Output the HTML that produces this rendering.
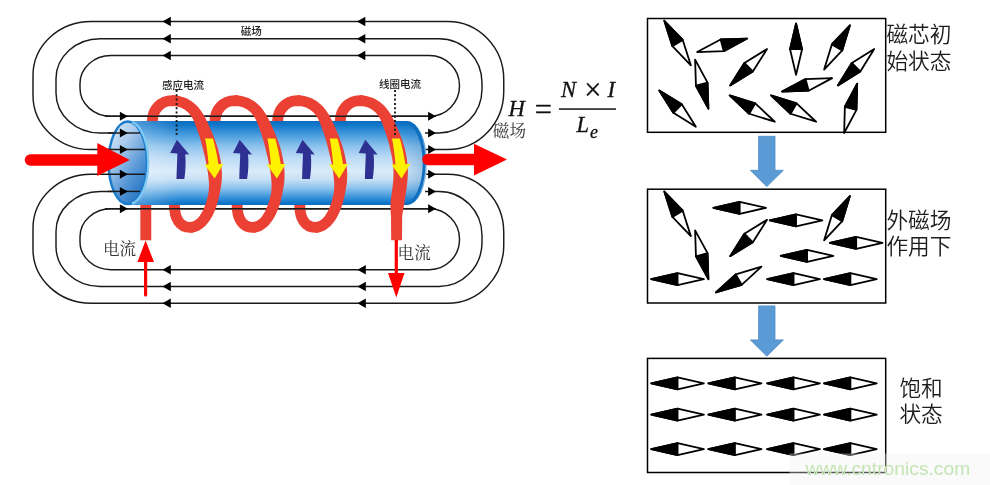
<!DOCTYPE html>
<html lang="zh"><head><meta charset="utf-8"><title>磁场</title>
<style>html,body{margin:0;padding:0;background:#fff}body{width:990px;height:485px;overflow:hidden}svg{display:block;will-change:transform}</style>
</head><body>
<svg width="990" height="485" viewBox="0 0 990 485">
<defs>
<linearGradient id="cyl" x1="0" y1="0" x2="0" y2="1">
<stop offset="0" stop-color="#0a6cbf"/><stop offset="0.05" stop-color="#1278ca"/><stop offset="0.15" stop-color="#3f97dc"/>
<stop offset="0.3" stop-color="#8cc2ec"/><stop offset="0.45" stop-color="#bfdcf5"/><stop offset="0.6" stop-color="#d8ebfa"/>
<stop offset="0.7" stop-color="#c5e0f6"/><stop offset="0.8" stop-color="#8cc2ec"/><stop offset="0.9" stop-color="#3f97dc"/>
<stop offset="0.96" stop-color="#167cce"/><stop offset="1" stop-color="#0a6cbf"/></linearGradient>
<linearGradient id="open" x1="0.15" y1="0" x2="0.85" y2="1">
<stop offset="0" stop-color="#d8e7f7"/><stop offset="0.3" stop-color="#a9cbed"/><stop offset="0.65" stop-color="#5596d6"/><stop offset="1" stop-color="#1c6cbe"/></linearGradient>
<linearGradient id="hl" x1="0" y1="0" x2="1" y2="0">
<stop offset="0" stop-color="#ffffff" stop-opacity="0.32"/><stop offset="1" stop-color="#ffffff" stop-opacity="0"/></linearGradient>
<clipPath id="bodyclip"><path d="M128,121 H407 A20,42 0 0 1 407,205 H128 A20,42 0 0 1 128,121 Z"/></clipPath>
<linearGradient id="endg" x1="0" y1="0" x2="1" y2="0">
<stop offset="0" stop-color="#0a62b0" stop-opacity="0"/><stop offset="1" stop-color="#0a62b0" stop-opacity="0.3"/></linearGradient>
</defs>
<rect width="990" height="485" fill="#fff"/>
<rect x="789.5" y="453.5" width="200.5" height="31.5" fill="#fbfbfb"/>
<g fill="none" stroke="#1a1a1a" stroke-width="1.45">
<path d="M270.00,21.50 H91.00 A58.00,54.00 0 0 0 33.00,75.50 V95.50 A58.00,54.00 0 0 0 91.00,149.50 H143.00"/>
<path d="M270.00,21.50 H447.75 A56.00,58.00 0 0 1 503.75,79.50 V91.50 A56.00,58.00 0 0 1 447.75,149.50 H425.00"/>
<path d="M270.00,38.75 H100.00 A44.00,40.00 0 0 0 56.00,78.75 V93.00 A44.00,40.00 0 0 0 100.00,133.00 H143.00"/>
<path d="M270.00,38.75 H439.00 A43.00,44.00 0 0 1 482.00,82.75 V89.00 A43.00,44.00 0 0 1 439.00,133.00 H425.00"/>
<path d="M270.00,55.50 H111.00 A31.00,28.00 0 0 0 80.00,83.50 V88.30 A31.00,28.00 0 0 0 111.00,116.30 H436.00"/>
<path d="M270.00,55.50 H429.50 A30.00,30.20 0 0 1 459.50,85.70 V86.10 A30.00,30.20 0 0 1 429.50,116.30 H436.00"/>
<path d="M436.00,208.80 H111.00 A31.00,28.00 0 0 0 80.00,236.80 V241.70 A31.00,28.00 0 0 0 111.00,269.70 H270.00"/>
<path d="M436.00,208.80 H429.50 A30.00,30.20 0 0 1 459.50,239.00 V239.50 A30.00,30.20 0 0 1 429.50,269.70 H270.00"/>
<path d="M143.00,191.40 H100.00 A44.00,40.00 0 0 0 56.00,231.40 V246.50 A44.00,40.00 0 0 0 100.00,286.50 H270.00"/>
<path d="M425.00,191.40 H439.00 A43.00,44.00 0 0 1 482.00,235.40 V242.50 A43.00,44.00 0 0 1 439.00,286.50 H270.00"/>
<path d="M143.00,174.20 H91.00 A58.00,54.00 0 0 0 33.00,228.20 V249.20 A58.00,54.00 0 0 0 91.00,303.20 H270.00"/>
<path d="M425.00,174.20 H447.75 A56.00,58.00 0 0 1 503.75,232.20 V245.20 A56.00,58.00 0 0 1 447.75,303.20 H270.00"/>
</g>
<g fill="none" stroke="#eb4034" stroke-width="10.9">
<path d="M145.8,200 V240.3"/>
<path d="M152.30,121.5 C152.30,110 160.50,100.6 172.00,100.6 L175.00,100.75 M193.00,227.1 L190.00,227.4 C180.00,227.4 174.40,219 174.40,204"/>
<path d="M214.95,121.5 C214.95,110 223.15,100.6 234.65,100.6 L237.65,100.75 M255.65,227.1 L252.65,227.4 C242.65,227.4 237.05,219 237.05,204"/>
<path d="M277.60,121.5 C277.60,110 285.80,100.6 297.30,100.6 L300.30,100.75 M318.30,227.1 L315.30,227.4 C305.30,227.4 299.70,219 299.70,204"/>
<path d="M340.25,121.5 C340.25,110 348.45,100.6 359.95,100.6 L362.95,100.75"/>
</g>
<g fill="none" stroke="#1a1a1a" stroke-width="1.45"><path d="M105,116.3 H436"/><path d="M105,208.8 H436"/></g>
<path d="M128,121 H407 A20,42 0 0 1 407,205 H128 A20,42 0 0 1 128,121 Z" fill="url(#cyl)"/>
<rect x="396" y="120" width="32" height="86" fill="url(#endg)" clip-path="url(#bodyclip)"/>
<path d="M407,122.3 A18.4,40.8 0 0 1 407,203.7" fill="none" stroke="#0e6dbe" stroke-width="2.8"/>
<rect x="128" y="120" width="52" height="86" fill="url(#hl)" clip-path="url(#bodyclip)"/><ellipse cx="127.8" cy="162.8" rx="19.2" ry="41.3" fill="url(#open)" stroke="#1a7ccb" stroke-width="2.5"/>
<path d="M132,122 A19.2,41.3 0 0 1 132,203.6" fill="none" stroke="#7fcbf4" stroke-width="2.2"/>
<g fill="none" stroke="#1a1a1a" stroke-width="1.45"><path d="M108,133 H140"/><path d="M108,149.5 H145"/><path d="M108,174.2 H145"/><path d="M108,191.4 H140"/></g>
<g fill="#000"><polygon points="162.50,21.50 170.80,16.80 170.80,26.20"/><polygon points="357.00,21.50 365.30,16.80 365.30,26.20"/><polygon points="162.50,38.75 170.80,34.05 170.80,43.45"/><polygon points="357.00,38.75 365.30,34.05 365.30,43.45"/><polygon points="162.50,55.50 170.80,50.80 170.80,60.20"/><polygon points="357.00,55.50 365.30,50.80 365.30,60.20"/><polygon points="162.50,269.70 170.80,265.00 170.80,274.40"/><polygon points="357.50,269.70 365.80,265.00 365.80,274.40"/><polygon points="162.50,286.50 170.80,281.80 170.80,291.20"/><polygon points="357.50,286.50 365.80,281.80 365.80,291.20"/><polygon points="162.50,303.20 170.80,298.50 170.80,307.90"/><polygon points="357.50,303.20 365.80,298.50 365.80,307.90"/><polygon points="127.80,149.50 119.90,145.00 119.90,154.00"/><polygon points="436.00,149.50 428.10,145.00 428.10,154.00"/><polygon points="127.80,133.00 119.90,128.50 119.90,137.50"/><polygon points="436.00,133.00 428.10,128.50 428.10,137.50"/><polygon points="127.80,116.30 119.90,111.80 119.90,120.80"/><polygon points="436.00,116.30 428.10,111.80 428.10,120.80"/><polygon points="127.80,208.80 119.90,204.30 119.90,213.30"/><polygon points="436.00,208.80 428.10,204.30 428.10,213.30"/><polygon points="127.80,191.40 119.90,186.90 119.90,195.90"/><polygon points="436.00,191.40 428.10,186.90 428.10,195.90"/><polygon points="127.80,174.20 119.90,169.70 119.90,178.70"/><polygon points="436.00,174.20 428.10,169.70 428.10,178.70"/></g>
<g fill="#2e3192"><path d="M176.90,139.8 L189.20,154.6 L185.20,154.2 C186.00,162 185.60,171 184.30,179 L176.50,179 C176.60,171 177.20,162 177.40,153.6 L170.20,153 Z"/><path d="M239.70,139.8 L252.00,154.6 L248.00,154.2 C248.80,162 248.40,171 247.10,179 L239.30,179 C239.40,171 240.00,162 240.20,153.6 L233.00,153 Z"/><path d="M302.50,139.8 L314.80,154.6 L310.80,154.2 C311.60,162 311.20,171 309.90,179 L302.10,179 C302.20,171 302.80,162 303.00,153.6 L295.80,153 Z"/><path d="M365.30,139.8 L377.60,154.6 L373.60,154.2 C374.40,162 374.00,171 372.70,179 L364.90,179 C365.00,171 365.60,162 365.80,153.6 L358.60,153 Z"/></g>
<g fill="#eb4034" stroke="none">
<path d="M171.87,105.90 L173.29,105.93 L174.54,106.03 L175.76,106.19 L176.96,106.41 L178.12,106.69 L179.25,107.02 L180.36,107.42 L181.44,107.87 L182.49,108.38 L183.51,108.94 L184.51,109.57 L185.48,110.24 L186.42,110.98 L187.34,111.77 L188.23,112.61 L189.09,113.52 L189.92,114.48 L190.72,115.50 L191.46,116.59 L192.17,117.74 L192.84,118.94 L193.47,120.20 L194.06,121.51 L194.66,122.95 L195.33,124.63 L196.02,126.43 L196.74,128.36 L197.47,130.40 L198.22,132.55 L198.96,134.81 L199.71,137.15 L200.45,139.58 L201.18,142.08 L201.89,144.65 L202.57,147.28 L203.22,149.96 L203.86,152.67 L204.56,155.39 L205.20,158.14 L205.79,160.91 L206.33,163.69 L206.81,166.47 L207.34,169.23 L207.79,171.99 L208.17,174.73 L208.45,177.44 L208.73,180.13 L208.94,182.75 L209.01,185.02 L208.95,187.41 L208.80,189.83 L208.56,192.26 L208.11,194.68 L207.58,197.07 L206.98,199.43 L206.30,201.75 L205.56,204.00 L204.76,206.18 L203.90,208.27 L202.98,210.26 L202.00,212.13 L200.98,213.86 L199.92,215.45 L198.83,216.88 L197.72,218.14 L196.60,219.21 L195.48,220.11 L194.37,220.82 L193.29,221.36 L192.21,221.74 L191.13,221.97 L189.64,222.06 L190.36,232.74 L192.56,232.58 L195.05,232.07 L197.41,231.26 L199.64,230.18 L201.72,228.86 L203.65,227.34 L205.45,225.64 L207.13,223.79 L208.68,221.80 L210.13,219.69 L211.48,217.46 L212.72,215.14 L213.88,212.73 L214.94,210.23 L215.92,207.67 L216.81,205.05 L217.61,202.38 L218.32,199.68 L218.95,196.95 L219.49,194.20 L220.09,191.47 L220.61,188.74 L221.05,186.02 L221.46,183.25 L221.76,180.09 L221.92,176.93 L221.88,173.76 L221.74,170.59 L221.52,167.41 L221.20,164.24 L220.70,161.11 L220.10,158.01 L219.45,154.95 L218.74,151.92 L217.98,148.94 L217.08,146.04 L216.12,143.21 L215.14,140.45 L214.14,137.76 L213.12,135.16 L212.10,132.64 L211.08,130.22 L210.06,127.91 L209.06,125.69 L208.08,123.59 L207.13,121.61 L206.21,119.76 L205.34,118.05 L204.51,116.42 L203.59,114.77 L202.62,113.17 L201.60,111.63 L200.53,110.16 L199.41,108.74 L198.26,107.36 L197.06,106.05 L195.81,104.81 L194.51,103.63 L193.17,102.52 L191.77,101.48 L190.33,100.52 L188.84,99.63 L187.32,98.82 L185.75,98.09 L184.14,97.44 L182.50,96.88 L180.82,96.40 L179.11,96.00 L177.37,95.70 L175.60,95.48 L173.81,95.34 L172.13,95.30 Z"/>
<path d="M234.52,105.90 L235.94,105.93 L237.19,106.03 L238.41,106.19 L239.61,106.41 L240.77,106.69 L241.90,107.02 L243.01,107.42 L244.09,107.87 L245.14,108.38 L246.16,108.94 L247.16,109.57 L248.13,110.24 L249.07,110.98 L249.99,111.77 L250.88,112.61 L251.74,113.52 L252.57,114.48 L253.37,115.50 L254.11,116.59 L254.82,117.74 L255.49,118.94 L256.12,120.20 L256.71,121.51 L257.31,122.95 L257.98,124.63 L258.67,126.43 L259.39,128.36 L260.12,130.40 L260.87,132.55 L261.61,134.81 L262.36,137.15 L263.10,139.58 L263.83,142.08 L264.54,144.65 L265.22,147.28 L265.87,149.96 L266.51,152.67 L267.21,155.39 L267.85,158.14 L268.44,160.91 L268.98,163.69 L269.46,166.47 L269.99,169.23 L270.44,171.99 L270.82,174.73 L271.10,177.44 L271.38,180.13 L271.59,182.75 L271.66,185.02 L271.60,187.41 L271.45,189.83 L271.21,192.26 L270.76,194.68 L270.23,197.07 L269.63,199.43 L268.95,201.75 L268.21,204.00 L267.41,206.18 L266.55,208.27 L265.63,210.26 L264.65,212.13 L263.63,213.86 L262.57,215.45 L261.48,216.88 L260.37,218.14 L259.25,219.21 L258.13,220.11 L257.02,220.82 L255.94,221.36 L254.86,221.74 L253.78,221.97 L252.29,222.06 L253.01,232.74 L255.21,232.58 L257.70,232.07 L260.06,231.26 L262.29,230.18 L264.37,228.86 L266.30,227.34 L268.10,225.64 L269.78,223.79 L271.33,221.80 L272.78,219.69 L274.13,217.46 L275.37,215.14 L276.53,212.73 L277.59,210.23 L278.57,207.67 L279.46,205.05 L280.26,202.38 L280.97,199.68 L281.60,196.95 L282.14,194.20 L282.74,191.47 L283.26,188.74 L283.70,186.02 L284.11,183.25 L284.41,180.09 L284.57,176.93 L284.53,173.76 L284.39,170.59 L284.17,167.41 L283.85,164.24 L283.35,161.11 L282.75,158.01 L282.10,154.95 L281.39,151.92 L280.63,148.94 L279.73,146.04 L278.77,143.21 L277.79,140.45 L276.79,137.76 L275.77,135.16 L274.75,132.64 L273.73,130.22 L272.71,127.91 L271.71,125.69 L270.73,123.59 L269.78,121.61 L268.86,119.76 L267.99,118.05 L267.16,116.42 L266.24,114.77 L265.27,113.17 L264.25,111.63 L263.18,110.16 L262.06,108.74 L260.91,107.36 L259.71,106.05 L258.46,104.81 L257.16,103.63 L255.82,102.52 L254.42,101.48 L252.98,100.52 L251.49,99.63 L249.97,98.82 L248.40,98.09 L246.79,97.44 L245.15,96.88 L243.47,96.40 L241.76,96.00 L240.02,95.70 L238.25,95.48 L236.46,95.34 L234.78,95.30 Z"/>
<path d="M297.17,105.90 L298.59,105.93 L299.84,106.03 L301.06,106.19 L302.26,106.41 L303.42,106.69 L304.55,107.02 L305.66,107.42 L306.74,107.87 L307.79,108.38 L308.81,108.94 L309.81,109.57 L310.78,110.24 L311.72,110.98 L312.64,111.77 L313.53,112.61 L314.39,113.52 L315.22,114.48 L316.02,115.50 L316.76,116.59 L317.47,117.74 L318.14,118.94 L318.77,120.20 L319.36,121.51 L319.96,122.95 L320.63,124.63 L321.32,126.43 L322.04,128.36 L322.77,130.40 L323.52,132.55 L324.26,134.81 L325.01,137.15 L325.75,139.58 L326.48,142.08 L327.19,144.65 L327.87,147.28 L328.52,149.96 L329.16,152.67 L329.86,155.39 L330.50,158.14 L331.09,160.91 L331.63,163.69 L332.11,166.47 L332.64,169.23 L333.09,171.99 L333.47,174.73 L333.75,177.44 L334.03,180.13 L334.24,182.75 L334.31,185.02 L334.25,187.41 L334.10,189.83 L333.86,192.26 L333.41,194.68 L332.88,197.07 L332.28,199.43 L331.60,201.75 L330.86,204.00 L330.06,206.18 L329.20,208.27 L328.28,210.26 L327.30,212.13 L326.28,213.86 L325.22,215.45 L324.13,216.88 L323.02,218.14 L321.90,219.21 L320.78,220.11 L319.67,220.82 L318.59,221.36 L317.51,221.74 L316.43,221.97 L314.94,222.06 L315.66,232.74 L317.86,232.58 L320.35,232.07 L322.71,231.26 L324.94,230.18 L327.02,228.86 L328.95,227.34 L330.75,225.64 L332.43,223.79 L333.98,221.80 L335.43,219.69 L336.78,217.46 L338.02,215.14 L339.18,212.73 L340.24,210.23 L341.22,207.67 L342.11,205.05 L342.91,202.38 L343.62,199.68 L344.25,196.95 L344.79,194.20 L345.39,191.47 L345.91,188.74 L346.35,186.02 L346.76,183.25 L347.06,180.09 L347.22,176.93 L347.18,173.76 L347.04,170.59 L346.82,167.41 L346.50,164.24 L346.00,161.11 L345.40,158.01 L344.75,154.95 L344.04,151.92 L343.28,148.94 L342.38,146.04 L341.42,143.21 L340.44,140.45 L339.44,137.76 L338.42,135.16 L337.40,132.64 L336.38,130.22 L335.36,127.91 L334.36,125.69 L333.38,123.59 L332.43,121.61 L331.51,119.76 L330.64,118.05 L329.81,116.42 L328.89,114.77 L327.92,113.17 L326.90,111.63 L325.83,110.16 L324.71,108.74 L323.56,107.36 L322.36,106.05 L321.11,104.81 L319.81,103.63 L318.47,102.52 L317.07,101.48 L315.63,100.52 L314.14,99.63 L312.62,98.82 L311.05,98.09 L309.44,97.44 L307.80,96.88 L306.12,96.40 L304.41,96.00 L302.67,95.70 L300.90,95.48 L299.11,95.34 L297.43,95.30 Z"/>
<path d="M359.22,105.90 L360.64,105.93 L361.89,106.03 L363.11,106.19 L364.31,106.41 L365.47,106.69 L366.60,107.02 L367.71,107.42 L368.79,107.87 L369.84,108.38 L370.86,108.94 L371.86,109.57 L372.83,110.24 L373.77,110.98 L374.69,111.77 L375.58,112.61 L376.44,113.52 L377.27,114.48 L378.07,115.50 L378.81,116.59 L379.52,117.74 L380.19,118.94 L380.82,120.20 L381.41,121.51 L381.99,122.90 L382.52,124.33 L383.10,125.87 L383.69,127.47 L384.29,129.13 L384.90,130.84 L385.50,132.60 L386.10,134.40 L386.70,136.26 L387.29,138.16 L387.88,140.10 L388.45,142.07 L389.00,144.09 L389.52,146.14 L390.02,148.22 L390.48,150.34 L390.95,152.47 L391.43,154.62 L391.86,156.79 L392.26,158.99 L392.61,161.22 L392.90,163.46 L393.15,165.72 L393.33,168.00 L393.46,170.27 L393.51,172.04 L393.52,173.84 L393.48,175.64 L393.41,177.43 L393.31,179.23 L393.18,181.03 L393.01,182.84 L392.83,184.65 L392.62,186.47 L392.40,188.31 L392.16,190.15 L391.92,192.02 L391.68,193.89 L391.43,195.79 L391.19,197.70 L390.96,199.64 L390.74,201.59 L390.53,203.57 L390.47,205.59 L390.50,207.63 L390.56,209.69 L390.66,211.78 L390.81,213.88 L391.00,216.00 L391.19,240.30 L402.01,240.30 L402.20,216.00 L402.44,214.14 L402.72,212.30 L403.03,210.48 L403.37,208.67 L403.74,206.86 L404.07,205.05 L404.31,203.23 L404.56,201.40 L404.83,199.56 L405.12,197.72 L405.41,195.86 L405.70,193.98 L406.00,192.10 L406.28,190.19 L406.56,188.26 L406.82,186.31 L407.06,184.34 L407.28,182.34 L407.47,180.32 L407.63,178.27 L407.75,176.19 L407.83,174.08 L407.87,171.94 L407.84,169.73 L407.70,167.03 L407.48,164.37 L407.20,161.75 L406.86,159.16 L406.46,156.61 L406.01,154.10 L405.51,151.63 L404.97,149.20 L404.33,146.83 L403.63,144.51 L402.90,142.25 L402.15,140.04 L401.38,137.88 L400.60,135.77 L399.80,133.73 L398.99,131.74 L398.17,129.81 L397.35,127.95 L396.54,126.15 L395.74,124.42 L394.95,122.75 L394.19,121.15 L393.45,119.62 L392.71,118.10 L391.86,116.42 L390.94,114.77 L389.97,113.17 L388.95,111.63 L387.88,110.16 L386.76,108.74 L385.61,107.36 L384.41,106.05 L383.16,104.81 L381.86,103.63 L380.52,102.52 L379.12,101.48 L377.68,100.52 L376.19,99.63 L374.67,98.82 L373.10,98.09 L371.49,97.44 L369.85,96.88 L368.17,96.40 L366.46,96.00 L364.72,95.70 L362.95,95.48 L361.16,95.34 L359.48,95.30 Z"/>
</g>
<g fill="#fff200"><path d="M205.10,138.6 L212.90,138.6 C215.00,146 217.20,155 218.40,164 L223.40,164 L214.60,178.6 L204.50,164.6 L208.60,164.4 C207.80,155 206.60,146 205.10,138.6 Z"/><path d="M267.40,138.6 L275.20,138.6 C277.30,146 279.50,155 280.70,164 L285.70,164 L276.90,178.6 L266.80,164.6 L270.90,164.4 C270.10,155 268.90,146 267.40,138.6 Z"/><path d="M329.70,138.6 L337.50,138.6 C339.60,146 341.80,155 343.00,164 L348.00,164 L339.20,178.6 L329.10,164.6 L333.20,164.4 C332.40,155 331.20,146 329.70,138.6 Z"/><path d="M392.00,138.6 L399.80,138.6 C401.90,146 404.10,155 405.30,164 L410.30,164 L401.50,178.6 L391.40,164.6 L395.50,164.4 C394.70,155 393.50,146 392.00,138.6 Z"/></g>
<g stroke="#1a1a1a" stroke-width="1.9" stroke-dasharray="2,2.3" fill="none"><path d="M176.6,90 V136"/><path d="M395,90 V136"/></g>
<g fill="#ff0000" stroke="none">
<path d="M30.5,154.3 H97.3 V143 L129.8,159.9 L97.3,176 V165.8 H30.5 A5.75,5.75 0 0 1 30.5,154.3 Z"/>
<path d="M428,153.8 H474 V143.8 L507,159.6 L474,175.5 V165.2 H428 A5.7,5.7 0 0 1 428,153.8 Z"/>
<path d="M145.6,240.5 L154,262 H147.2 V295 A1.6,1.6 0 0 1 144,295 V262 H137.4 Z"/>
<path d="M394.7,240 H397.9 V273 H404.5 L396.3,297.5 L388,273 H394.7 Z"/>
</g>
<g fill="none" stroke="#000" stroke-width="1.5"><rect x="647.5" y="18.5" width="238.2" height="113.8"/><rect x="647.5" y="189.2" width="238.2" height="113.8"/><rect x="647.5" y="358.4" width="238.2" height="114.1"/></g>
<g><polygon points="664.30,20.76 672.42,46.13 690.85,65.35 682.73,39.99" fill="#fff" stroke="#000" stroke-width="1.8" stroke-linejoin="round"/><polygon points="664.30,20.76 672.42,46.13 682.73,39.99" fill="#000" stroke="#000" stroke-width="1.8" stroke-linejoin="round"/><polygon points="747.22,38.55 720.60,39.52 697.12,52.08 723.73,51.11" fill="#fff" stroke="#000" stroke-width="1.8" stroke-linejoin="round"/><polygon points="747.22,38.55 720.60,39.52 723.73,51.11" fill="#000" stroke="#000" stroke-width="1.8" stroke-linejoin="round"/><polygon points="708.39,108.69 707.54,82.58 695.11,59.59 695.96,85.71" fill="#fff" stroke="#000" stroke-width="1.8" stroke-linejoin="round"/><polygon points="708.39,108.69 707.54,82.58 695.96,85.71" fill="#000" stroke="#000" stroke-width="1.8" stroke-linejoin="round"/><polygon points="730.18,85.39 752.81,71.50 767.01,49.07 744.38,62.96" fill="#fff" stroke="#000" stroke-width="1.8" stroke-linejoin="round"/><polygon points="730.18,85.39 752.81,71.50 744.38,62.96" fill="#000" stroke="#000" stroke-width="1.8" stroke-linejoin="round"/><polygon points="796.06,23.52 790.06,49.20 796.06,74.87 802.06,49.20" fill="#fff" stroke="#000" stroke-width="1.8" stroke-linejoin="round"/><polygon points="796.06,23.52 790.06,49.20 802.06,49.20" fill="#000" stroke="#000" stroke-width="1.8" stroke-linejoin="round"/><polygon points="849.92,25.27 831.84,44.42 824.12,69.61 842.21,50.46" fill="#fff" stroke="#000" stroke-width="1.8" stroke-linejoin="round"/><polygon points="849.92,25.27 831.84,44.42 842.21,50.46" fill="#000" stroke="#000" stroke-width="1.8" stroke-linejoin="round"/><polygon points="837.90,85.39 860.30,71.47 874.22,49.07 851.82,62.99" fill="#fff" stroke="#000" stroke-width="1.8" stroke-linejoin="round"/><polygon points="837.90,85.39 860.30,71.47 851.82,62.99" fill="#000" stroke="#000" stroke-width="1.8" stroke-linejoin="round"/><polygon points="782.04,91.66 808.65,90.69 832.14,78.13 805.52,79.10" fill="#fff" stroke="#000" stroke-width="1.8" stroke-linejoin="round"/><polygon points="782.04,91.66 808.65,90.69 805.52,79.10" fill="#000" stroke="#000" stroke-width="1.8" stroke-linejoin="round"/><polygon points="659.29,90.40 673.35,112.82 695.86,126.73 681.80,104.31" fill="#fff" stroke="#000" stroke-width="1.8" stroke-linejoin="round"/><polygon points="659.29,90.40 673.35,112.82 681.80,104.31" fill="#000" stroke="#000" stroke-width="1.8" stroke-linejoin="round"/><polygon points="729.68,95.41 749.20,113.75 774.77,121.72 755.25,103.38" fill="#fff" stroke="#000" stroke-width="1.8" stroke-linejoin="round"/><polygon points="729.68,95.41 749.20,113.75 755.25,103.38" fill="#000" stroke="#000" stroke-width="1.8" stroke-linejoin="round"/><polygon points="771.01,95.41 790.54,113.75 816.11,121.72 796.58,103.38" fill="#fff" stroke="#000" stroke-width="1.8" stroke-linejoin="round"/><polygon points="771.01,95.41 790.54,113.75 796.58,103.38" fill="#000" stroke="#000" stroke-width="1.8" stroke-linejoin="round"/><polygon points="857.19,83.64 844.87,106.78 844.16,132.99 856.48,109.85" fill="#fff" stroke="#000" stroke-width="1.8" stroke-linejoin="round"/><polygon points="857.19,83.64 844.87,106.78 856.48,109.85" fill="#000" stroke="#000" stroke-width="1.8" stroke-linejoin="round"/><polygon points="664.30,191.52 672.42,216.88 690.85,236.11 682.73,210.74" fill="#fff" stroke="#000" stroke-width="1.8" stroke-linejoin="round"/><polygon points="664.30,191.52 672.42,216.88 682.73,210.74" fill="#000" stroke="#000" stroke-width="1.8" stroke-linejoin="round"/><polygon points="713.40,207.80 739.70,213.80 766.00,207.80 739.70,201.80" fill="#fff" stroke="#000" stroke-width="1.8" stroke-linejoin="round"/><polygon points="713.40,207.80 739.70,213.80 739.70,201.80" fill="#000" stroke="#000" stroke-width="1.8" stroke-linejoin="round"/><polygon points="708.39,279.19 707.54,253.19 695.11,230.34 695.96,256.34" fill="#fff" stroke="#000" stroke-width="1.8" stroke-linejoin="round"/><polygon points="708.39,279.19 707.54,253.19 695.96,256.34" fill="#000" stroke="#000" stroke-width="1.8" stroke-linejoin="round"/><polygon points="730.18,256.15 752.81,242.26 767.01,219.82 744.38,233.71" fill="#fff" stroke="#000" stroke-width="1.8" stroke-linejoin="round"/><polygon points="730.18,256.15 752.81,242.26 744.38,233.71" fill="#000" stroke="#000" stroke-width="1.8" stroke-linejoin="round"/><polygon points="769.76,220.32 796.06,226.32 822.37,220.32 796.06,214.32" fill="#fff" stroke="#000" stroke-width="1.8" stroke-linejoin="round"/><polygon points="769.76,220.32 796.06,226.32 796.06,214.32" fill="#000" stroke="#000" stroke-width="1.8" stroke-linejoin="round"/><polygon points="849.92,196.02 831.84,215.18 824.12,240.36 842.21,221.21" fill="#fff" stroke="#000" stroke-width="1.8" stroke-linejoin="round"/><polygon points="849.92,196.02 831.84,215.18 842.21,221.21" fill="#000" stroke="#000" stroke-width="1.8" stroke-linejoin="round"/><polygon points="829.88,242.87 856.19,248.87 882.49,242.87 856.19,236.87" fill="#fff" stroke="#000" stroke-width="1.8" stroke-linejoin="round"/><polygon points="829.88,242.87 856.19,248.87 856.19,236.87" fill="#000" stroke="#000" stroke-width="1.8" stroke-linejoin="round"/><polygon points="780.78,255.89 807.09,261.89 833.39,255.89 807.09,249.89" fill="#fff" stroke="#000" stroke-width="1.8" stroke-linejoin="round"/><polygon points="780.78,255.89 807.09,261.89 807.09,249.89" fill="#000" stroke="#000" stroke-width="1.8" stroke-linejoin="round"/><polygon points="651.27,279.19 677.58,285.19 703.88,279.19 677.58,273.19" fill="#fff" stroke="#000" stroke-width="1.8" stroke-linejoin="round"/><polygon points="651.27,279.19 677.58,285.19 677.58,273.19" fill="#000" stroke="#000" stroke-width="1.8" stroke-linejoin="round"/><polygon points="715.90,292.47 741.65,284.79 761.49,266.67 735.74,274.35" fill="#fff" stroke="#000" stroke-width="1.8" stroke-linejoin="round"/><polygon points="715.90,292.47 741.65,284.79 735.74,274.35" fill="#000" stroke="#000" stroke-width="1.8" stroke-linejoin="round"/><polygon points="767.26,279.19 793.56,285.19 819.86,279.19 793.56,273.19" fill="#fff" stroke="#000" stroke-width="1.8" stroke-linejoin="round"/><polygon points="767.26,279.19 793.56,285.19 793.56,273.19" fill="#000" stroke="#000" stroke-width="1.8" stroke-linejoin="round"/><polygon points="824.12,279.19 850.42,285.19 876.73,279.19 850.42,273.19" fill="#fff" stroke="#000" stroke-width="1.8" stroke-linejoin="round"/><polygon points="824.12,279.19 850.42,285.19 850.42,273.19" fill="#000" stroke="#000" stroke-width="1.8" stroke-linejoin="round"/><polygon points="651.27,383.31 677.58,389.31 703.88,383.31 677.58,377.31" fill="#fff" stroke="#000" stroke-width="1.8" stroke-linejoin="round"/><polygon points="651.27,383.31 677.58,389.31 677.58,377.31" fill="#000" stroke="#000" stroke-width="1.8" stroke-linejoin="round"/><polygon points="708.39,383.31 734.94,389.31 761.49,383.31 734.94,377.31" fill="#fff" stroke="#000" stroke-width="1.8" stroke-linejoin="round"/><polygon points="708.39,383.31 734.94,389.31 734.94,377.31" fill="#000" stroke="#000" stroke-width="1.8" stroke-linejoin="round"/><polygon points="767.26,383.31 793.56,389.31 819.86,383.31 793.56,377.31" fill="#fff" stroke="#000" stroke-width="1.8" stroke-linejoin="round"/><polygon points="767.26,383.31 793.56,389.31 793.56,377.31" fill="#000" stroke="#000" stroke-width="1.8" stroke-linejoin="round"/><polygon points="824.12,383.31 850.42,389.31 876.73,383.31 850.42,377.31" fill="#fff" stroke="#000" stroke-width="1.8" stroke-linejoin="round"/><polygon points="824.12,383.31 850.42,389.31 850.42,377.31" fill="#000" stroke="#000" stroke-width="1.8" stroke-linejoin="round"/><polygon points="651.27,414.62 677.58,420.62 703.88,414.62 677.58,408.62" fill="#fff" stroke="#000" stroke-width="1.8" stroke-linejoin="round"/><polygon points="651.27,414.62 677.58,420.62 677.58,408.62" fill="#000" stroke="#000" stroke-width="1.8" stroke-linejoin="round"/><polygon points="708.39,414.62 734.94,420.62 761.49,414.62 734.94,408.62" fill="#fff" stroke="#000" stroke-width="1.8" stroke-linejoin="round"/><polygon points="708.39,414.62 734.94,420.62 734.94,408.62" fill="#000" stroke="#000" stroke-width="1.8" stroke-linejoin="round"/><polygon points="767.26,414.62 793.56,420.62 819.86,414.62 793.56,408.62" fill="#fff" stroke="#000" stroke-width="1.8" stroke-linejoin="round"/><polygon points="767.26,414.62 793.56,420.62 793.56,408.62" fill="#000" stroke="#000" stroke-width="1.8" stroke-linejoin="round"/><polygon points="824.12,414.62 850.42,420.62 876.73,414.62 850.42,408.62" fill="#fff" stroke="#000" stroke-width="1.8" stroke-linejoin="round"/><polygon points="824.12,414.62 850.42,420.62 850.42,408.62" fill="#000" stroke="#000" stroke-width="1.8" stroke-linejoin="round"/><polygon points="651.27,449.19 677.58,455.19 703.88,449.19 677.58,443.19" fill="#fff" stroke="#000" stroke-width="1.8" stroke-linejoin="round"/><polygon points="651.27,449.19 677.58,455.19 677.58,443.19" fill="#000" stroke="#000" stroke-width="1.8" stroke-linejoin="round"/><polygon points="708.39,449.19 734.94,455.19 761.49,449.19 734.94,443.19" fill="#fff" stroke="#000" stroke-width="1.8" stroke-linejoin="round"/><polygon points="708.39,449.19 734.94,455.19 734.94,443.19" fill="#000" stroke="#000" stroke-width="1.8" stroke-linejoin="round"/><polygon points="767.26,449.19 793.56,455.19 819.86,449.19 793.56,443.19" fill="#fff" stroke="#000" stroke-width="1.8" stroke-linejoin="round"/><polygon points="767.26,449.19 793.56,455.19 793.56,443.19" fill="#000" stroke="#000" stroke-width="1.8" stroke-linejoin="round"/><polygon points="824.12,449.19 850.42,455.19 876.73,449.19 850.42,443.19" fill="#fff" stroke="#000" stroke-width="1.8" stroke-linejoin="round"/><polygon points="824.12,449.19 850.42,455.19 850.42,443.19" fill="#000" stroke="#000" stroke-width="1.8" stroke-linejoin="round"/></g>
<g fill="#5b9bd5" stroke="#4e8ac6" stroke-width="0.8"><path d="M758.6,136.3 H775 V170.3 H783.4 L766.8,186.6 L750.4,170.3 H758.6 Z"/><path d="M758.6,305.9 H775 V339.9 H783.4 L766.8,356.2 L750.4,339.9 H758.6 Z"/></g>
<g font-family="'Liberation Sans','Noto Sans CJK SC',sans-serif" fill="#222">
<g font-size="10.5" font-weight="500"><text x="162" y="88.5">感应电流</text><text x="379" y="88">线圈电流</text><text x="240.7" y="35">磁场</text></g>
<g font-size="21.7" font-weight="350" fill="#1c1c1c">
<text x="886.4" y="42.2">磁芯初</text><text x="886.4" y="68.6">始状态</text>
<text x="886.4" y="227.7">外磁场</text><text x="886.4" y="254.1">作用下</text>
<text x="899.4" y="395.7">饱和</text><text x="899.4" y="422.1">状态</text>
</g>
<rect x="789.5" y="453.5" width="200.5" height="31.5" fill="#fafafa" opacity="0.35"/>
<text x="805.5" y="474.8" font-size="19.25" fill="#c4e5b4">www.cntronics.com</text>
</g>
<g font-family="'Liberation Serif','Noto Serif CJK SC',serif" fill="#333" font-size="16.6">
<text x="102.9" y="254.7">电流</text><text x="397.6" y="258.7">电流</text><text x="492.8" y="137.2">磁场</text>
</g>
<g font-family="'Liberation Serif',serif" fill="#111" stroke="#111" stroke-width="0.3" font-size="22.5">
<text x="508.6" y="116" font-style="italic">H</text><text x="543.3" y="119.5" font-size="30.5" text-anchor="middle">=</text>
<text x="561" y="97.3" font-style="italic">N</text><text x="592.8" y="100" font-size="30.5" text-anchor="middle">×</text><text x="607.4" y="97.3" font-style="italic">I</text>
<text x="576.5" y="132.4" font-style="italic">L</text><text x="590" y="137.6" font-style="italic" font-size="18">e</text>
</g>
<rect x="559" y="108.3" width="57" height="1.5" fill="#111"/>
</svg>
</body></html>
